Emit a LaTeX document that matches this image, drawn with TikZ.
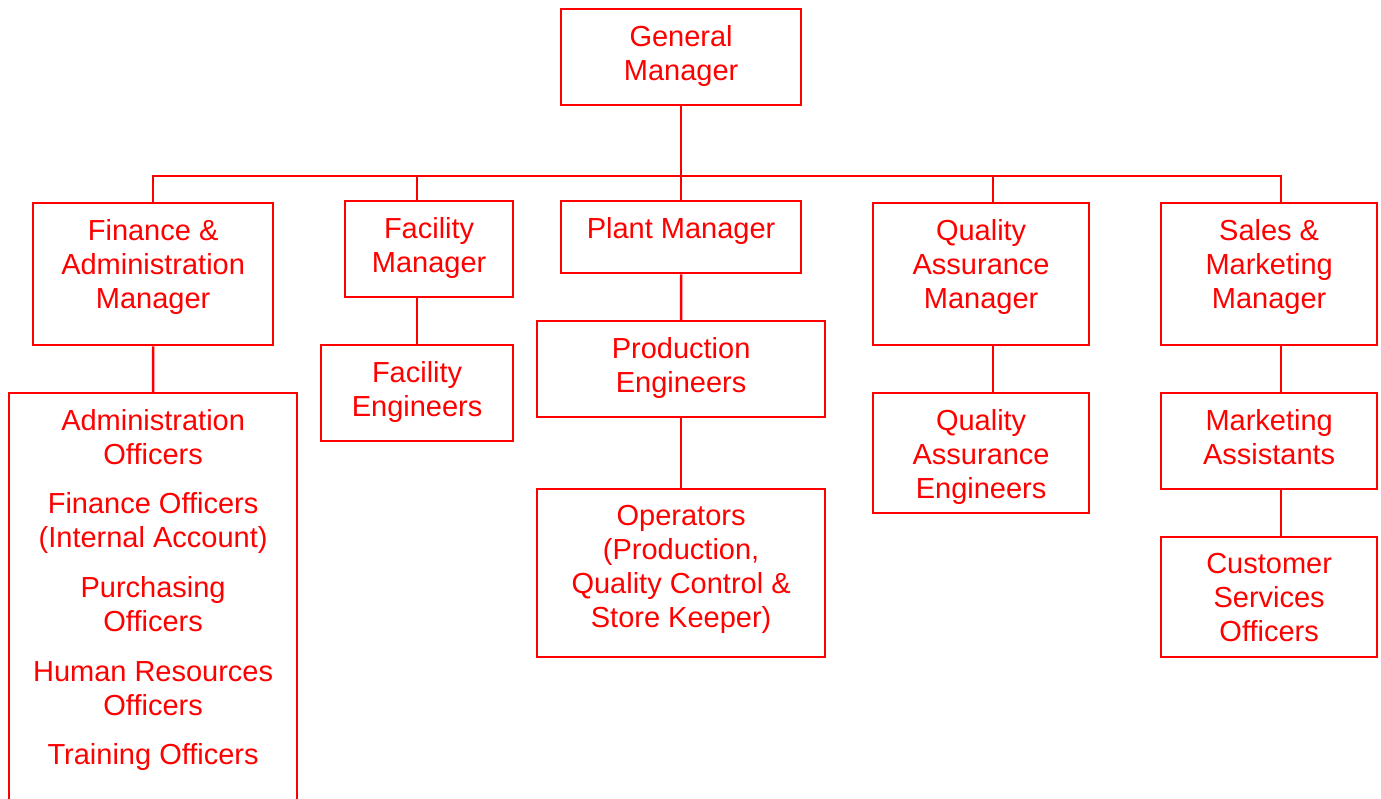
\documentclass[tikz,border=0pt]{standalone}
\usepackage{fontspec}
\setmainfont{Liberation Sans}
\usepackage{xcolor}
\usepackage{tikz}
\usetikzlibrary{positioning}

\begin{document}
\begin{tikzpicture}[x=0.02cm, y=-0.02cm,
        link/.style={draw=red, line width=1.3pt},
        unit/.style={draw=red, line width=1.3pt, anchor=north west, inner sep=0pt},
        title/.style={anchor=north, align=center, inner sep=0pt, yshift=-0.34cm, text=red,
            font=\fontsize{16.5}{19.3}\selectfont}]
        \useasboundingbox (0,0) rectangle (1381,798);

        \node[unit, minimum width=4.8cm, minimum height=1.92cm, label={[title]north:General\\Manager}] (gm) at (560,8) {};

        \node[unit, minimum width=4.8cm, minimum height=2.84cm, label={[title]north:Finance \&\\Administration\\Manager}] (fin) at (32,202) {};
        \node[unit, minimum width=3.36cm, minimum height=1.92cm, label={[title]north:Facility\\Manager}] (fac) at (344,200) {};
        \node[unit, minimum width=4.8cm, minimum height=1.44cm, label={[title]north:Plant Manager}] (plant) at (560,200) {};
        \node[unit, minimum width=4.32cm, minimum height=2.84cm, label={[title]north:Quality\\Assurance\\Manager}] (qam) at (872,202) {};
        \node[unit, minimum width=4.32cm, minimum height=2.84cm, label={[title]north:Sales \&\\Marketing\\Manager}] (sales) at (1160,202) {};

        \node[unit, minimum width=5.76cm, minimum height=8.4cm, label={[title]north:Administration\\Officers\\[9pt]Finance Officers\\(Internal Account)\\[9pt]Purchasing\\Officers\\[9pt]Human Resources\\Officers\\[9pt]Training Officers}] (offs) at (8,392) {};
        \node[unit, minimum width=3.84cm, minimum height=1.92cm, label={[title]north:Facility\\Engineers}] (faceng) at (320,344) {};
        \node[unit, minimum width=5.76cm, minimum height=1.92cm, label={[title]north:Production\\Engineers}] (prodeng) at (536,320) {};
        \node[unit, minimum width=5.76cm, minimum height=3.36cm, label={[title]north:Operators\\(Production,\\Quality Control \&\\Store Keeper)}] (oper) at (536,488) {};
        \node[unit, minimum width=4.32cm, minimum height=2.4cm, label={[title]north:Quality\\Assurance\\Engineers}] (qaeng) at (872,392) {};
        \node[unit, minimum width=4.32cm, minimum height=1.92cm, label={[title]north:Marketing\\Assistants}] (mktasst) at (1160,392) {};
        \node[unit, minimum width=4.32cm, minimum height=2.4cm, label={[title]north:Customer\\Services\\Officers}] (custsvc) at (1160,536) {};

        \coordinate (bus) at (680,176);

        \draw[link] (gm.south) -- (plant.north);
        \draw[link] (fin.north) |- (bus) -| ([xshift=.24cm]sales.north);
        \draw[link] (faceng.north |- bus) -- (faceng.north |- fac.north);
        \draw[link] ([xshift=.24cm]qam.north |- bus) -- ([xshift=.24cm]qam.north);

        \draw[link] (fin.south) -- (offs.north);
        \draw[link] (faceng.north |- fac.south) -- (faceng.north);
        \draw[link] (plant.south) -- (prodeng.north);
        \draw[link] (prodeng.south) -- (oper.north);
        \draw[link] ([xshift=.24cm]qam.south) -- ([xshift=.24cm]qam.south |- qaeng.north);
        \draw[link] ([xshift=.24cm]sales.south) -- ([xshift=.24cm]sales.south |- mktasst.north);
        \draw[link] ([xshift=.24cm]mktasst.south) -- ([xshift=.24cm]mktasst.south |- custsvc.north);
    \end{tikzpicture}
\end{document}
